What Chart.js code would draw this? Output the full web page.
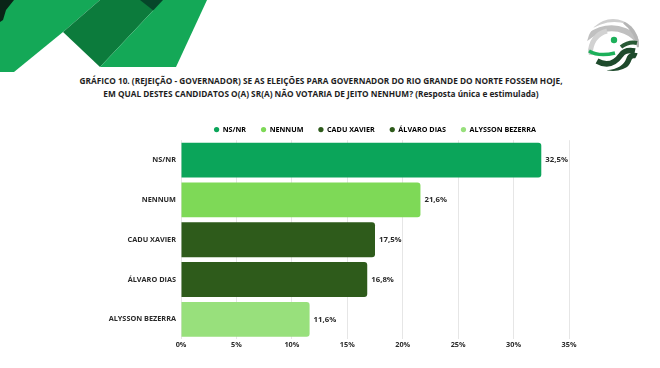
<!DOCTYPE html>
<html>
<head>
<meta charset="utf-8">
<script src="https://cdn.jsdelivr.net/npm/chart.js@4.4.1/dist/chart.umd.min.js"></script>
<style>
  html, body { margin: 0; padding: 0; background: #fff; }
  body { width: 660px; height: 368px; position: relative; overflow: hidden; font-family: 'Open Sans', sans-serif; }
  #deco { position: absolute; left: 0; top: 0; }
  #logo { position: absolute; left: 585px; top: 17px; }
  #title {
    position: absolute; left: 0; top: 74px; width: 642px;
    text-align: center; font-weight: 700; font-size: 9.5px; line-height: 13px; color: #1e1e1e;
    transform: scaleX(0.87); transform-origin: 321px 0;
  }
  #chartBox { position: absolute; left: 0; top: 108px; width: 660px; height: 250px; }
</style>
</head>
<body>
<svg id="deco" width="220" height="72">
  <polygon points="0,0 100,0 63,32 14,72 0,72" fill="#14a857"/>
  <polygon points="100,0 163,0 100,67 63,32" fill="#0c7b3c"/>
  <polygon points="140,0 166,0 154,11" fill="#06462a"/>
  <polygon points="163,0 207,0 176,67 100,67" fill="#14a857"/>
  <polygon points="0,0 14,0 6,10 3,20 0,22" fill="#0a2417"/>
</svg>
<svg id="logo" width="56" height="56" viewBox="0 0 56 56">
  <defs><clipPath id="c"><circle cx="28" cy="28" r="26"/></clipPath></defs>
  <g clip-path="url(#c)">
    <circle cx="28" cy="28" r="26" fill="#fff"/>
    <path d="M0,12 Q28,-8 56,10" stroke="#cfcfcf" stroke-width="7" fill="none"/>
    <path d="M0,22 Q20,6 40,14 Q50,18 56,28" stroke="#c0c0c0" stroke-width="6" fill="none"/>
    <path d="M5,38 Q6,18 22,14" stroke="#d2d2d2" stroke-width="5" fill="none"/>
    <path d="M40,4 Q53,14 55,30" stroke="#b5b5b5" stroke-width="6" fill="none"/>
    <path d="M4,34 Q14,40 30,36" stroke="#1db05a" stroke-width="3.5" fill="none"/>
    <circle cx="29" cy="23" r="3.2" fill="#1db05a"/>
    <path d="M12,44 Q26,52 36,38 Q40,32 50,34" stroke="#1e4a2c" stroke-width="5.5" fill="none"/>
    <path d="M22,56 Q40,54 44,42 Q46,36 56,40" stroke="#1e4a2c" stroke-width="5.5" fill="none"/>
    <path d="M36,30 Q44,24 52,26" stroke="#2a5a36" stroke-width="4" fill="none"/>
  </g>
</svg>
<div id="title">GRÁFICO 10. (REJEIÇÃO - GOVERNADOR) SE AS ELEIÇÕES PARA GOVERNADOR DO RIO GRANDE DO NORTE FOSSEM HOJE,<br>EM QUAL DESTES CANDIDATOS O(A) SR(A) NÃO VOTARIA DE JEITO NENHUM? (Resposta única e estimulada)</div>
<div id="chartBox"><canvas id="rejChart"></canvas></div>
<script>
const candidates = ['NS/NR', 'NENNUM', 'CADU XAVIER', 'ÁLVARO DIAS', 'ALYSSON BEZERRA'];
const rejection = [32.5, 21.6, 17.5, 16.8, 11.6];
const barColors = ['#0ba55a', '#7ed957', '#2e5b1b', '#2e5b1b', '#98e07c'];
const xTicks = [0, 5, 10, 15, 20, 25, 30, 35];

const fmt = v => v.toFixed(1).replace('.', ',') + '%';

// value labels at the end of each bar
const barLabels = {
    id: 'barLabels',
    afterDatasetsDraw(chart) {
        const ctx = chart.ctx;
        const meta = chart.getDatasetMeta(0);
        ctx.save();
        ctx.font = 'bold 7.8px "Open Sans"';
        ctx.fillStyle = '#2a2a2a';
        ctx.textAlign = 'left';
        ctx.textBaseline = 'middle';
        meta.data.forEach((bar, i) => {
            ctx.fillText(fmt(rejection[i]), bar.x + 4, bar.y);
        });
        ctx.restore();
    }
};

// center the legend over the plot area, nudge it down toward the bars
const legendShift = {
    id: 'legendShift',
    afterLayout(chart) {
        const lg = chart.legend;
        const area = chart.chartArea;
        const off = (area.left + area.right) / 2 - (lg.left + lg.right) / 2;
        lg.left += off;
        lg.right += off;
        lg.top += 3;
        lg.bottom += 3;
    }
};

new Chart(document.getElementById('rejChart').getContext('2d'), {
    type: 'bar',
    data: {
        labels: candidates,
        datasets: [{
            data: rejection,
            backgroundColor: barColors,
            borderRadius: 3,
            borderSkipped: 'start',
            barPercentage: 0.875,
            categoryPercentage: 1
        }]
    },
    options: {
        indexAxis: 'y',
        responsive: true,
        maintainAspectRatio: false,
        animation: false,
        layout: { padding: { right: 91, top: 0, bottom: 8 } },
        plugins: {
            tooltip: { enabled: false },
            legend: {
                display: true,
                labels: {
                    usePointStyle: true,
                    pointStyle: 'circle',
                    boxWidth: 5,
                    boxHeight: 3.7,
                    padding: 15,
                    color: '#2a2a2a',
                    font: { family: 'Open Sans', size: 7.2, weight: 'bold' },
                    generateLabels: () => candidates.map((c, i) => ({
                        text: c,
                        fillStyle: barColors[i],
                        strokeStyle: barColors[i],
                        lineWidth: 0,
                        pointStyle: 'circle',
                        hidden: false,
                        index: i
                    }))
                }
            }
        },
        scales: {
            x: {
                min: 0,
                max: 35,
                afterBuildTicks: s => { s.ticks = xTicks.map(v => ({ value: v })); },
                grid: { color: '#e6e6e6', drawTicks: false },
                border: { display: false },
                ticks: {
                    padding: 1,
                    color: '#2a2a2a',
                    font: { family: 'Open Sans', size: 7.3, weight: 'bold' },
                    callback: v => v + '%'
                }
            },
            y: {
                afterFit: s => { s.width = 181; },
                grid: { display: false, drawTicks: false },
                border: { display: false },
                ticks: {
                    padding: 5,
                    color: '#2a2a2a',
                    font: { family: 'Open Sans', size: 7.3, weight: 'bold' }
                }
            }
        }
    },
    plugins: [barLabels, legendShift]
});
</script>
</body>
</html>
